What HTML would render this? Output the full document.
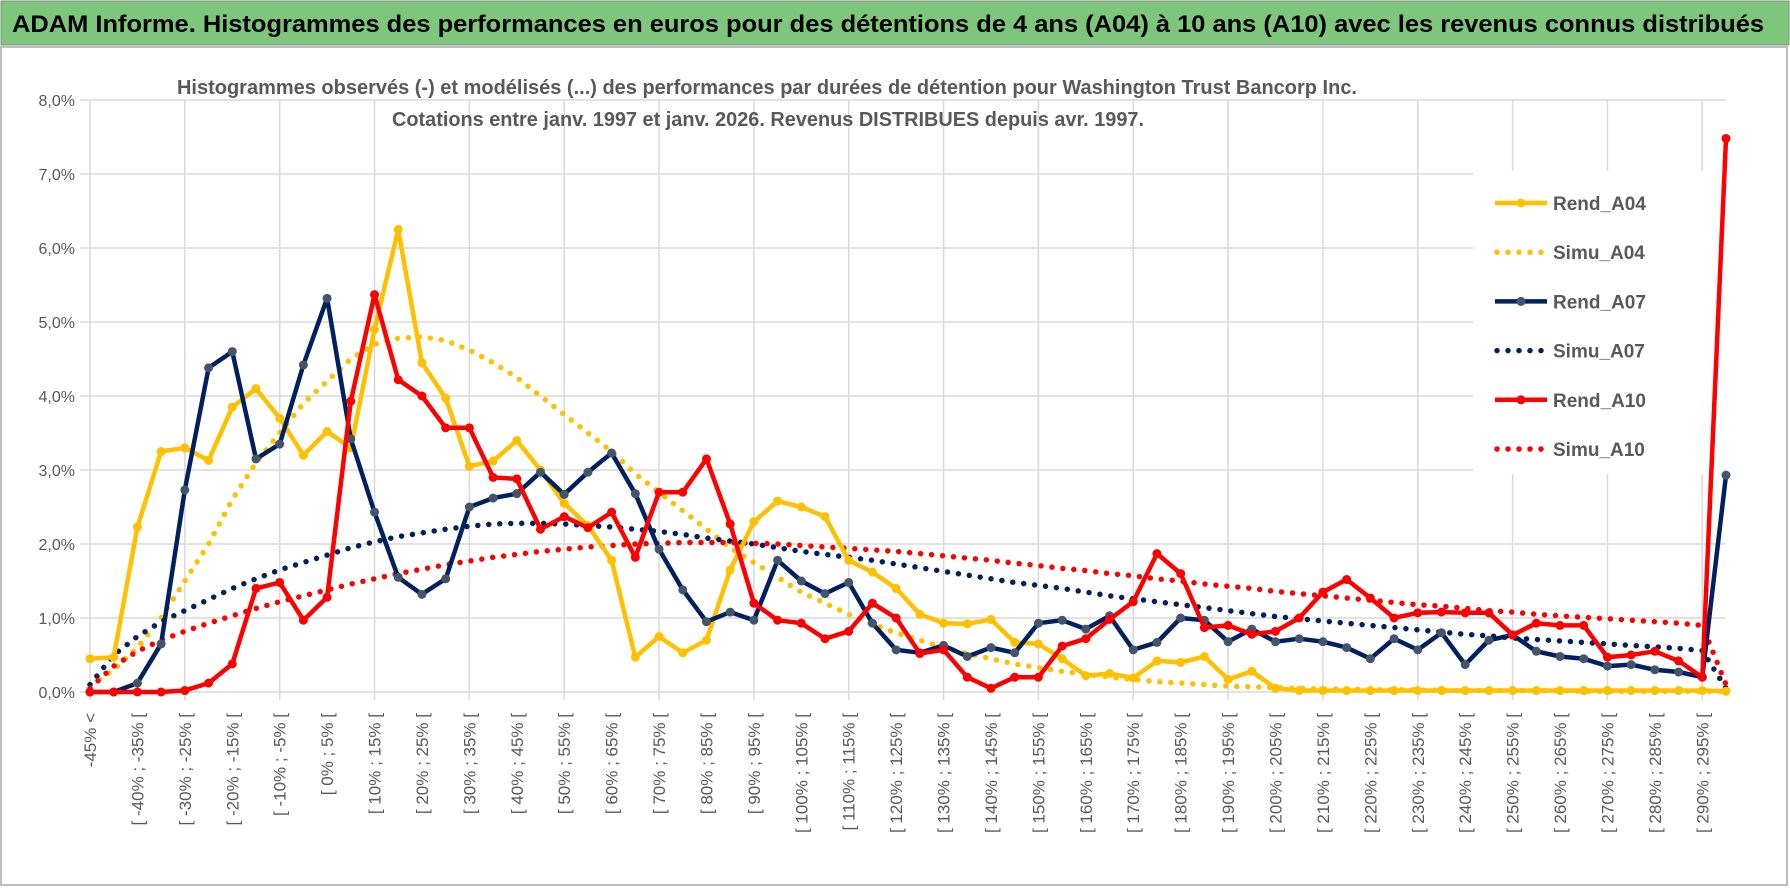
<!DOCTYPE html>
<html><head><meta charset="utf-8"><style>
html,body{margin:0;padding:0;background:#fff;}
svg{display:block;font-family:"Liberation Sans",sans-serif;}
</style></head><body>
<svg id="chart" width="1790" height="888" viewBox="0 0 1790 888" xmlns="http://www.w3.org/2000/svg">
<rect x="0" y="0" width="1790" height="888" fill="#fff"/>
<rect x="1" y="1" width="1788" height="44" fill="#7dc67b" stroke="#8a8a8a" stroke-width="1"/>
<text x="12" y="32" font-size="24" font-weight="bold" fill="#000" textLength="1752" lengthAdjust="spacingAndGlyphs">ADAM Informe. Histogrammes des performances en euros pour des détentions de 4 ans (A04) à 10 ans (A10) avec les revenus connus distribués</text>
<rect x="1" y="47" width="1786" height="838" fill="none" stroke="#bcbcbc" stroke-width="2"/>
<g id="grid"></g>
<g id="yticks"></g>
<g id="xticks"></g>
<rect x="1473" y="171" width="252" height="303" fill="#fff"/>
<g id="series"></g>
<text x="767" y="94" text-anchor="middle" font-size="20" font-weight="bold" fill="#595959" textLength="1180" lengthAdjust="spacingAndGlyphs">Histogrammes observés (-) et modélisés (...) des performances par durées de détention pour Washington Trust Bancorp Inc.</text>
<text x="768" y="126" text-anchor="middle" font-size="20" font-weight="bold" fill="#595959" textLength="752" lengthAdjust="spacingAndGlyphs">Cotations entre janv. 1997 et janv. 2026. Revenus DISTRIBUES depuis avr. 1997.</text>
<g id="legend"></g>
</svg>
<script>
const yTicks = ["0,0%","1,0%","2,0%","3,0%","4,0%","5,0%","6,0%","7,0%","8,0%"];
const rendA04 = [0.45,0.47,2.23,3.25,3.3,3.13,3.85,4.1,3.7,3.2,3.52,3.3,4.9,6.25,4.45,3.97,3.05,3.12,3.4,3.0,2.55,2.25,1.78,0.47,0.75,0.53,0.7,1.65,2.3,2.58,2.5,2.37,1.78,1.62,1.4,1.05,0.93,0.92,0.98,0.67,0.65,0.45,0.22,0.25,0.19,0.42,0.4,0.48,0.17,0.28,0.05,0.02,0.02,0.02,0.02,0.02,0.02,0.02,0.02,0.02,0.02,0.02,0.02,0.02,0.02,0.02,0.02,0.02,0.02,0.01];
const simuA04 = [0.1,0.3,0.6,1.0,1.5,2.0,2.6,3.1,3.5,3.9,4.2,4.5,4.7,4.78,4.8,4.75,4.62,4.45,4.25,4.0,3.75,3.5,3.25,2.95,2.7,2.45,2.2,1.95,1.75,1.55,1.35,1.2,1.05,0.92,0.8,0.7,0.6,0.52,0.45,0.38,0.33,0.28,0.24,0.2,0.17,0.14,0.12,0.1,0.08,0.07,0.06,0.05,0.04,0.04,0.03,0.03,0.03,0.02,0.02,0.02,0.02,0.02,0.02,0.01,0.01,0.01,0.01,0.01,0.01,0.01];
const rendA07 = [0,0,0.12,0.65,2.73,4.38,4.6,3.15,3.35,4.42,5.32,3.42,2.43,1.55,1.32,1.53,2.5,2.62,2.68,2.97,2.67,2.97,3.23,2.68,1.93,1.38,0.95,1.08,0.97,1.78,1.5,1.33,1.48,0.93,0.57,0.53,0.63,0.48,0.6,0.53,0.93,0.97,0.85,1.03,0.57,0.67,1.0,0.97,0.68,0.85,0.68,0.72,0.68,0.6,0.45,0.72,0.57,0.8,0.37,0.7,0.77,0.55,0.48,0.45,0.35,0.37,0.3,0.27,0.2,2.93];
const simuA07 = [0.1,0.5,0.75,0.95,1.1,1.25,1.4,1.53,1.65,1.75,1.85,1.95,2.03,2.1,2.15,2.2,2.24,2.27,2.28,2.28,2.27,2.25,2.23,2.2,2.17,2.13,2.08,2.04,2.0,1.95,1.9,1.86,1.82,1.78,1.73,1.68,1.63,1.58,1.53,1.48,1.44,1.4,1.35,1.3,1.26,1.22,1.18,1.14,1.1,1.06,1.02,0.99,0.96,0.93,0.9,0.87,0.84,0.81,0.78,0.76,0.73,0.71,0.69,0.67,0.65,0.63,0.61,0.59,0.56,0.05];
const rendA10 = [0,0,0,0,0.02,0.12,0.38,1.4,1.48,0.97,1.28,3.93,5.37,4.22,4.0,3.57,3.57,2.9,2.88,2.2,2.37,2.22,2.43,1.82,2.7,2.7,3.15,2.27,1.2,0.97,0.93,0.72,0.82,1.2,1.0,0.52,0.57,0.2,0.05,0.2,0.2,0.62,0.72,0.98,1.22,1.87,1.6,0.87,0.9,0.78,0.82,1.0,1.35,1.52,1.27,1.0,1.07,1.08,1.07,1.07,0.77,0.93,0.9,0.9,0.47,0.5,0.55,0.42,0.2,7.48];
const simuA10 = [0.05,0.35,0.55,0.7,0.82,0.93,1.03,1.13,1.22,1.3,1.38,1.46,1.53,1.6,1.66,1.72,1.77,1.82,1.86,1.9,1.93,1.96,1.98,2.0,2.01,2.02,2.02,2.02,2.01,2.0,1.98,1.96,1.94,1.92,1.9,1.87,1.84,1.81,1.78,1.74,1.71,1.67,1.64,1.6,1.57,1.53,1.5,1.46,1.43,1.4,1.36,1.33,1.3,1.27,1.24,1.21,1.18,1.16,1.13,1.1,1.08,1.05,1.03,1.01,0.99,0.97,0.95,0.93,0.9,0.1];
const seriesNames = ["Rend_A04","Simu_A04","Rend_A07","Simu_A07","Rend_A10","Simu_A10"];

const NS="http://www.w3.org/2000/svg";
const N = rendA04.length;
const X0=90, X1=1726, Y0=692, Y8=100;
function xPos(i){return X0+i*(X1-X0)/(N-1);}
function yPos(v){return Y0-v*(Y0-Y8)/8;}
function catLabel(i){
  if(i===0) return "-45% <";
  const lo=-45+5*(i-1);
  return "[ "+lo+"% ; "+(lo+5)+"% [";
}
function mk(tag,attrs,parent){const e=document.createElementNS(NS,tag);for(const k in attrs)e.setAttribute(k,attrs[k]);parent.appendChild(e);return e;}

const grid=document.getElementById('grid');
for(let k=0;k<yTicks.length;k++){
  const l=mk('line',{x1:80,x2:X1,y1:yPos(k),y2:yPos(k),stroke:'#d9d9d9','stroke-width':1.5},grid);
  
  
}
for(let i=0;i<N;i+=4){
  const l=mk('line',{x1:xPos(i),x2:xPos(i),y1:Y8,y2:Y0+8,stroke:'#d9d9d9','stroke-width':1.5},grid);
  
  
}
const yt=document.getElementById('yticks');
yTicks.forEach((t,k)=>{
  const e=mk('text',{x:75,y:yPos(k)+6,'text-anchor':'end','font-size':16,fill:'#595959'},yt);
  e.textContent=t;
  
  
});
const xt=document.getElementById('xticks');
for(let i=0;i<N-1;i+=2){
  const x=xPos(i)+6;
  const e=mk('text',{x:0,y:0,transform:`translate(${x},713) rotate(-90)`,'text-anchor':'end','font-size':17,fill:'#595959'},xt);
  e.textContent=catLabel(i);
  
  
}
const sg=document.getElementById('series');
function pts(arr){return arr.map((v,i)=>xPos(i).toFixed(1)+','+yPos(v).toFixed(1)).join(' ');}
function dotted(arr,color,name){
  const p=mk('polyline',{points:pts(arr),fill:'none',stroke:color,'stroke-width':5.5,'stroke-linecap':'round','stroke-dasharray':'0 11'},sg);
  
  
}
function solid(arr,color,mcolor,name){
  const p=mk('polyline',{points:pts(arr),fill:'none',stroke:color,'stroke-width':4.5,'stroke-linejoin':'round'},sg);
  
  
  arr.forEach((v,i)=>{
    const c=mk('circle',{cx:xPos(i),cy:yPos(v),r:4.5,fill:mcolor},sg);
    
    
  });
}
dotted(simuA04,'#FFC000','simu-a04-line');
dotted(simuA07,'#002060','simu-a07-line');
dotted(simuA10,'#FF0000','simu-a10-line');
solid(rendA04,'#FFC000','#FFC000','rend-a04-line');
solid(rendA07,'#002060','#44546A','rend-a07-line');
solid(rendA10,'#FF0000','#FF0000','rend-a10-line');

const lg=document.getElementById('legend');
const lcol=['#FFC000','#FFC000','#002060','#002060','#FF0000','#FF0000'];
const lmk=['#FFC000',null,'#44546A',null,'#FF0000',null];
seriesNames.forEach((n,k)=>{
  const y=203+k*49.2;
  const g=mk('g',{},lg);
  
  
  if(lmk[k]){
    mk('line',{x1:1495,x2:1547,y1:y,y2:y,stroke:lcol[k],'stroke-width':4.5},g);
    mk('circle',{cx:1521,cy:y,r:4.5,fill:lmk[k]},g);
  } else {
    mk('line',{x1:1497,x2:1547,y1:y,y2:y,stroke:lcol[k],'stroke-width':5.5,'stroke-linecap':'round','stroke-dasharray':'0 11'},g);
  }
  const t=mk('text',{x:1553,y:y+7,'font-size':19,'font-weight':'bold',fill:'#595959'},g);
  t.textContent=n;
});
</script>
</body></html>
